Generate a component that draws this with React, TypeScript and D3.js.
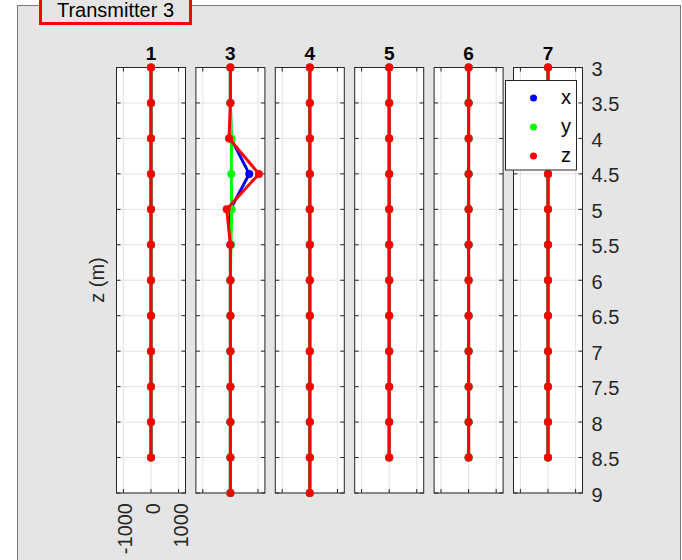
import React from "react";
import * as d3 from "d3";

// Receiver columns shown in the panel
const receivers = ["1", "3", "4", "5", "6", "7"];

// Depth samples (m) per receiver
const depthsShort = [3, 3.5, 4, 4.5, 5, 5.5, 6, 6.5, 7, 7.5, 8, 8.5];
const depthsLong = [3, 3.5, 4, 4.5, 5, 5.5, 6, 6.5, 7, 7.5, 8, 8.5, 9];

// Field components per receiver, one value per depth
const xComp = [
  [0, 0, 0, 0, 0, 0, 0, 0, 0, 0, 0, 0],
  [0, 0, 20, 683, 0, 0, 0, 0, 0, 0, 0, 0, 0],
  [0, 0, 0, 0, 0, 0, 0, 0, 0, 0, 0, 0, 0],
  [0, 0, 0, 0, 0, 0, 0, 0, 0, 0, 0, 0],
  [0, 0, 0, 0, 0, 0, 0, 0, 0, 0, 0, 0],
  [0, 0, 0, 0, 0, 0, 0, 0, 0, 0, 0, 0],
];
const yComp = [
  [0, 0, 0, 0, 0, 0, 0, 0, 0, 0, 0, 0],
  [0, 0, 40, 33, 47, 20, 0, 0, 0, 0, 0, 0, 0],
  [0, 0, 0, 0, 0, 0, 0, 0, 0, 0, 0, 0, 0],
  [0, 0, 0, 0, 0, 0, 0, 0, 0, 0, 0, 0],
  [0, 0, 0, 0, 0, 0, 0, 0, 0, 0, 0, 0],
  [0, 0, 0, 0, 0, 0, 0, 0, 0, 0, 0, 0],
];
const zComp = [
  [0, 0, 0, 0, 0, 0, 0, 0, 0, 0, 0, 0],
  [0, 0, -50, 1035, -134, 0, 0, 0, 0, 0, 0, 0, 0],
  [0, 0, 0, 0, 0, 0, 0, 0, 0, 0, 0, 0, 0],
  [0, 0, 0, 0, 0, 0, 0, 0, 0, 0, 0, 0],
  [0, 0, 0, 0, 0, 0, 0, 0, 0, 0, 0, 0],
  [0, 0, 0, 0, 0, 0, 0, 0, 0, 0, 0, 0],
];
const receiverDepths = [depthsShort, depthsLong, depthsLong, depthsShort, depthsShort, depthsShort];

const seriesNames = ["x", "y", "z"];
const seriesColors = ["#0000ff", "#00ff00", "#ff0000"];

const depthTicks = [3, 3.5, 4, 4.5, 5, 5.5, 6, 6.5, 7, 7.5, 8, 8.5, 9];
const depthTickLabels = ["3", "3.5", "4", "4.5", "5", "5.5", "6", "6.5", "7", "7.5", "8", "8.5", "9"];
const ampTicks = [-1000, 0, 1000];
const ampTickLabels = ["-1000", "0", "1000"];

const panelTitle = "Transmitter 3";
const depthLabel = "z (m)";

const W = 682;
const H = 560;
const FONT = "'Liberation Sans', Arial, Helvetica, sans-serif";
const axisColor = "#262626";

export default function App() {
  const colLeft0 = 116.5;
  const colPitch = 79.4;
  const colW = 69;
  const top = 67.5;
  const bottom = 493;

  const y = d3.scaleLinear().domain([3, 9]).range([top, bottom]);
  const line = (xs: d3.ScaleLinear<number, number>, vals: number[], depths: number[]) =>
    d3.line<number>()
      .x((_, i) => xs(vals[i]))
      .y((_, i) => y(depths[i]))(vals) || "";

  const comps = [xComp, yComp, zComp];
  const tick = 4;

  return (
    <svg width={W} height={H} style={{ display: "block", position: "absolute", left: 0, top: 0 }}
      fontFamily={FONT}>
      <rect x={0} y={0} width={W} height={H} fill="#ffffff" />
      {/* panel */}
      <rect x={17.5} y={5.5} width={663} height={H} fill="#e5e5e5" stroke="#7a7a7a" strokeWidth={1} />
      <rect x={40.5} y={-10} width={150} height={33.5} fill="#e5e5e5" stroke="#ff0000" strokeWidth={3} />
      <text x={115.5} y={16.5} fontSize={20} textAnchor="middle" fill="#000">{panelTitle}</text>

      {receivers.map((r, c) => {
        const left = colLeft0 + c * colPitch;
        const xs = d3.scaleLinear().domain([-1250, 1250]).range([left, left + colW]);
        const depths = receiverDepths[c];
        return (
          <g key={r}>
            <rect x={left} y={top} width={colW} height={bottom - top} fill="#fff" />
            {depthTicks.map((t) => (
              <line key={"gh" + t} x1={left} x2={left + colW} y1={y(t)} y2={y(t)} stroke="#e3e3e3" strokeWidth={1} />
            ))}
            {ampTicks.map((t) => (
              <line key={"gv" + t} x1={xs(t)} x2={xs(t)} y1={top} y2={bottom} stroke="#e3e3e3" strokeWidth={1} />
            ))}
            {depthTicks.map((t) => (
              <g key={"t" + t}>
                <line x1={left} x2={left + tick} y1={y(t)} y2={y(t)} stroke={axisColor} strokeWidth={1} />
                <line x1={left + colW - tick} x2={left + colW} y1={y(t)} y2={y(t)} stroke={axisColor} strokeWidth={1} />
              </g>
            ))}
            {ampTicks.map((t) => (
              <g key={"a" + t}>
                <line x1={xs(t)} x2={xs(t)} y1={bottom} y2={bottom - tick} stroke={axisColor} strokeWidth={1} />
                <line x1={xs(t)} x2={xs(t)} y1={top} y2={top + tick} stroke={axisColor} strokeWidth={1} />
              </g>
            ))}
            <rect x={left} y={top} width={colW} height={bottom - top} fill="none" stroke={axisColor} strokeWidth={1} />
            <text x={left + colW / 2} y={59.5} fontSize={19} fontWeight="bold" textAnchor="middle" fill="#000">{r}</text>
            {comps.map((comp, s) => (
              <g key={seriesNames[s]}>
                <path d={line(xs, comp[c], depths)} fill="none" stroke={seriesColors[s]} strokeWidth={3}
                  strokeLinejoin="miter" />
                {comp[c].map((v, i) => (
                  <circle key={i} cx={xs(v)} cy={y(depths[i])} r={4} fill={seriesColors[s]} />
                ))}
              </g>
            ))}
            {c === 0 &&
              ampTicks.map((t, i) => (
                <text key={"al" + t} transform={`translate(${xs(t) + 9},503) rotate(-90)`} fontSize={20}
                  textAnchor="end" fill={axisColor}>{ampTickLabels[i]}</text>
              ))}
            {c === receivers.length - 1 &&
              depthTicks.map((t, i) => (
                <text key={"dl" + t} x={left + colW + 9} y={y(t) + 8.5} fontSize={20} fill={axisColor}>
                  {depthTickLabels[i]}
                </text>
              ))}
          </g>
        );
      })}

      <text transform={`translate(104,280) rotate(-90)`} fontSize={20} textAnchor="middle" fill={axisColor}>
        {depthLabel}
      </text>

      {/* legend */}
      <g>
        <rect x={505.5} y={80.5} width={71} height={89.5} fill="#fff" stroke={axisColor} strokeWidth={1} />
        {seriesNames.map((n, i) => (
          <g key={n}>
            <circle cx={533.5} cy={98 + i * 29} r={3.5} fill={seriesColors[i]} />
            <text x={561} y={98 + i * 29 + 6} fontSize={20} fill="#000">{n}</text>
          </g>
        ))}
      </g>
    </svg>
  );
}
